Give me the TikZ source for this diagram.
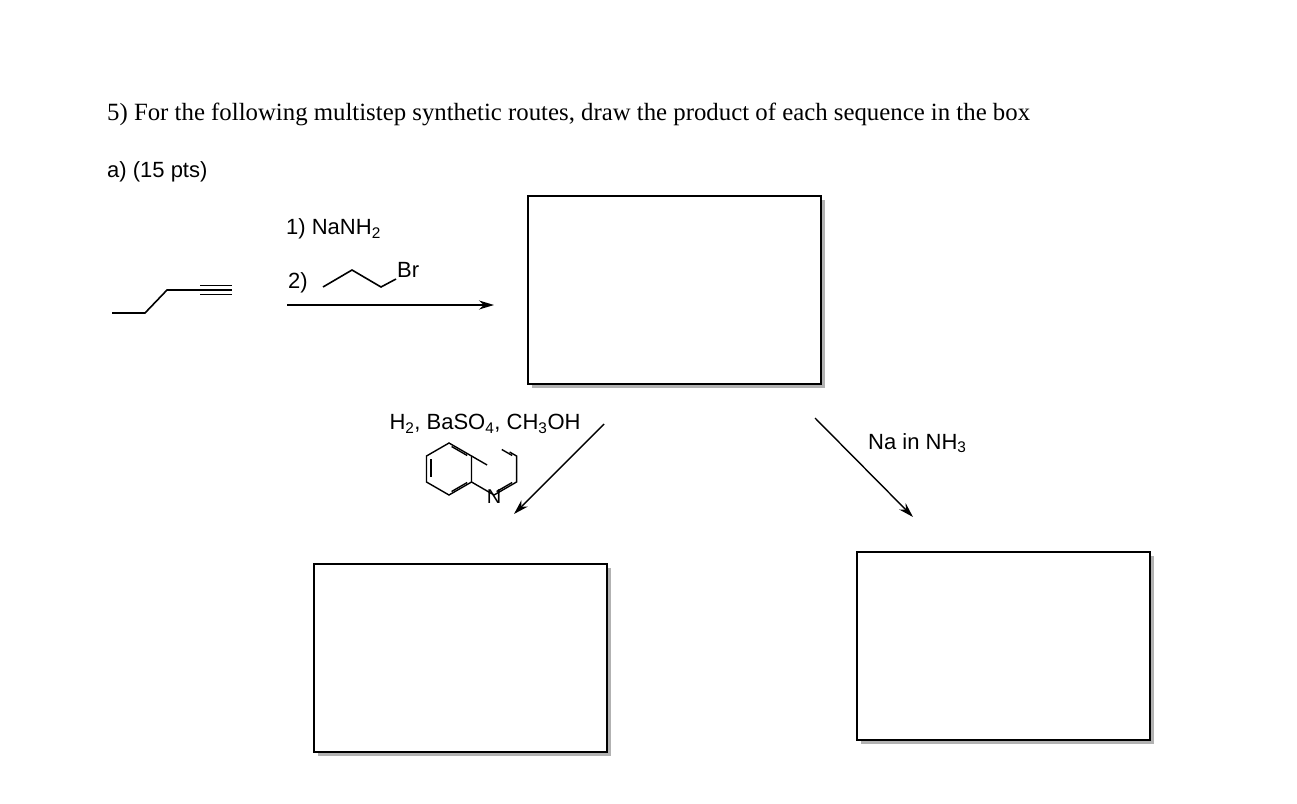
\documentclass[tikz,border=0pt]{standalone}
\usepackage{fontspec}
\setmainfont{Liberation Serif}
\newfontfamily\arial{Liberation Sans}
\usetikzlibrary{arrows.meta}
\begin{document}
\begin{tikzpicture}[x=1pt,y=-1pt,
  bond/.style={line width=1.6pt},
  box/.style={draw,line width=1.8pt,fill=white},
  shadow/.style={fill=black!30},
  rx/.style={line width=1.4pt,-{Stealth[length=15pt,width=9pt]}},
  lab/.style={font=\arial\fontsize{22}{26}\selectfont,inner sep=0pt}]
\useasboundingbox (0,0) rectangle (1297,803);
\node[anchor=west,inner sep=0pt,font=\fontsize{24.8}{28}\selectfont] (title) at (107,114) {5) For the following multistep synthetic routes, draw the product of each sequence in the box};
\node[anchor=west,lab] (part) at (107,172) {a) (15 pts)};
% alkyne
\draw[bond] (112,313) -- (145,313) -- (167,290) -- (200,290);
\draw[bond] (200,290) -- (232,290) (200,285.5) -- (232,285.5) (200,294.5) -- (232,294.5);
% reagents
\node[anchor=west,lab] (r1) at (286,229) {1) NaNH\textsubscript{2}};
\node[anchor=west,lab] (r2) at (288,283) {2)};
\draw[bond] (323,287) -- (352,270) -- (381,287) -- (396,279);
\node[anchor=west,lab] (br) at (397,270) {Br};
% boxes
\foreach \n/\x/\y in {b1/527/195,b2/313/563,b3/856/551}{
  \fill[shadow] (\x+5,\y+5) rectangle (\x+298,\y+193);
  \node[box,anchor=north west,minimum width=293pt,minimum height=188pt,inner sep=0pt] (\n) at (\x,\y) {};
}
\coordinate (a1) at (287,305); \coordinate (a2) at (494,305);
\draw[rx] (a1) -- (a2);
\coordinate (l1) at (604,424); \coordinate (l2) at (514,514);
\draw[rx] (l1) -- (l2);
\coordinate (q1) at (815,418); \coordinate (q2) at (913,517);
\draw[rx] (q1) -- (q2);
\node[lab] (h2) at (485,424) {H\textsubscript{2}, BaSO\textsubscript{4}, CH\textsubscript{3}OH};
\node[anchor=west,lab] (na) at (868,443) {Na in NH\textsubscript{3}};
% quinoline
\begin{scope}[line width=1.4pt]
\def\r{26}
\coordinate (c) at (449,469); \coordinate (d) at (494,469);
% benzene ring
\draw (c) ++(90:\r) -- ++(-30:\r) -- ++(-90:\r) -- ++(-150:\r) -- ++(150:\r) -- ++(90:\r) -- cycle;
% pyridine ring outer bonds
\draw (c) ++(30:\r) -- ++(30:\r) -- ++(-30:\r) -- ++(-90:\r) -- ++(-150:8);
\draw (c) ++(-30:\r) -- ++(30:\r-8);
% inner double bonds
\draw (c) ++(150:\r-5) ++(-90:3) -- ++(-90:\r-8);
\draw (c) ++(-90:\r-5) ++(-30:3) -- ++(30:\r-8);
\draw (c) ++(90:\r-5) ++(30:3) -- ++(-30:\r-8);
\draw (d) ++(90:\r-5) ++(30:3) -- ++(-30:\r-8);
\draw (d) ++(-30:\r-5) ++(-90:3) -- ++(-150:\r-14);
\end{scope}
\node[lab,font=\arial\fontsize{20}{24}\selectfont] (n) at (494,497) {N};
\end{tikzpicture}
\end{document}
